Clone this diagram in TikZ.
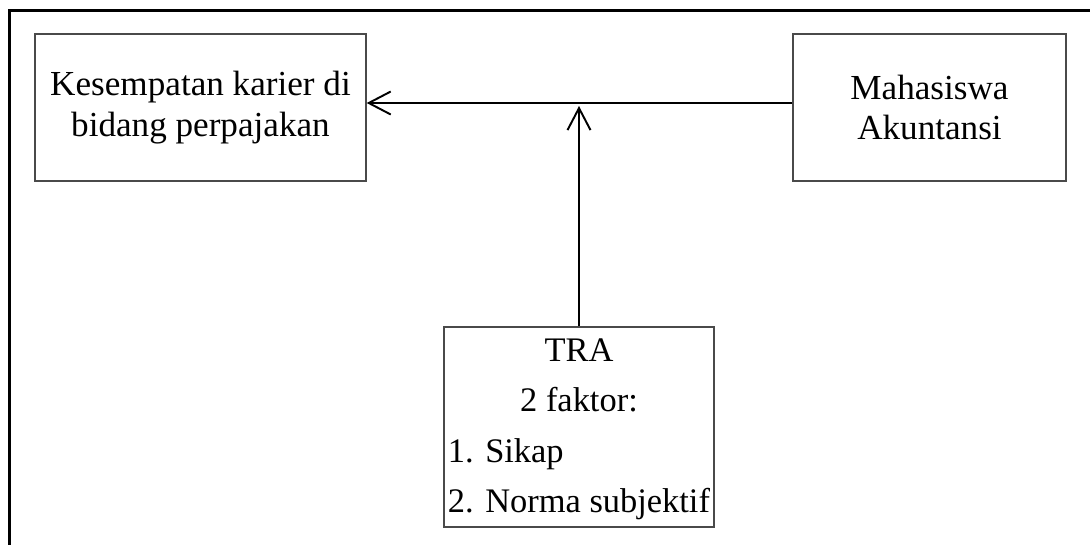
\documentclass[tikz,border=0pt]{standalone}
\usepackage{fontspec}
\setmainfont{Liberation Serif}
\usepackage{tikz}
\usetikzlibrary{arrows.meta,positioning}
\definecolor{ink}{HTML}{000000}
\definecolor{edge}{HTML}{4A4A4A}
\tikzset{
  box/.style={rectangle,draw=edge,line width=0.8pt,align=center,
    font=\fontsize{20}{23}\selectfont,inner sep=0pt},
  link/.style={-{Straight Barb[length=4.4mm,width=4.6mm]},line width=1.1pt,draw=ink}
}

\begin{document}
\begin{tikzpicture}[x=0.02cm,y=-0.02cm]
\useasboundingbox (0,0) rectangle (1090,545);
\draw[ink,line width=1.7pt] (9.5,545) -- (9.5,10.5) -- (1090,10.5);
\node[box,minimum width=6.62cm,minimum height=2.94cm] (karier) at (200.5,107.5)
  {Kesempatan karier di\\bidang perpajakan};
\node[box,minimum width=5.46cm,minimum height=2.94cm] (mhs) at (929.5,107.5)
  {Mahasiswa\\Akuntansi};
\node[box,minimum width=5.4cm,minimum height=3.92cm,
  font=\fontsize{19.6}{28.5}\selectfont] (tra) at (579,427)
  {\begin{tabular}{@{}l@{}}
   \multicolumn{1}{@{}c@{}}{TRA}\\
   \multicolumn{1}{@{}c@{}}{2 faktor:}\\
   1. Sikap\\
   2. Norma subjektif
   \end{tabular}};
\coordinate (join) at (579,106);
\draw[link] ([yshift=0.09cm]mhs.west) -- ([yshift=0.09cm]karier.east);
\draw[link] (tra.north) -- (join);
\end{tikzpicture}
\end{document}
